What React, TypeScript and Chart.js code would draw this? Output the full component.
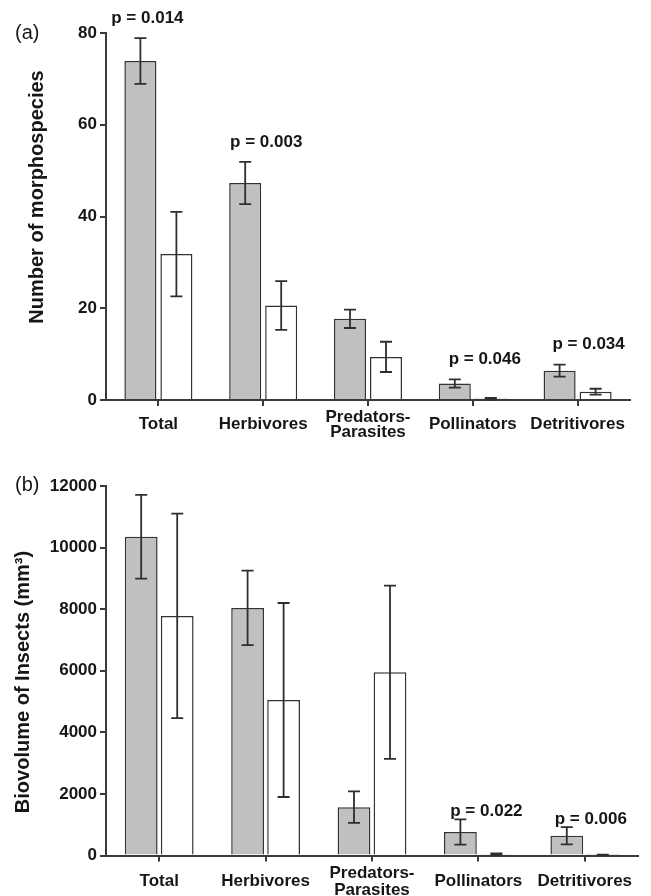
import React, { useEffect, useRef } from "react";
import { Chart, registerables } from "chart.js";

Chart.register(...registerables);

// ---------- data ----------
const categories: (string | string[])[] = [
  "Total",
  "Herbivores",
  ["Predators-", "Parasites"],
  "Pollinators",
  "Detritivores",
];

// (a) Number of morphospecies
const morphoTicks = [0, 20, 40, 60, 80];
const morphoGray = [73.9, 47.3, 17.7, 3.6, 6.4];
const morphoGrayErr = [5.0, 4.6, 2.0, 0.9, 1.3];
const morphoWhite = [31.8, 20.6, 9.4, 0.3, 1.8];
const morphoWhiteErr = [9.2, 5.3, 3.3, 0.15, 0.65];
const morphoP = ["p = 0.014", "p = 0.003", "", "p = 0.046", "p = 0.034"];

// (b) Biovolume of insects
const bioTicks = [0, 2000, 4000, 6000, 8000, 10000, 12000];
const bioGray = [10350, 8040, 1570, 760, 640];
const bioGrayErr = [1360, 1210, 510, 410, 280];
const bioWhite = [7780, 5050, 5950, 40, 20];
const bioWhiteErr = [3320, 3150, 2815, 25, 10];
const bioP = ["", "", "", "p = 0.022", "p = 0.006"];

// ---------- styling ----------
const FONT = "'Liberation Sans', Arial, Helvetica, sans-serif";
const AXIS = "#3a3a3a";
const TEXT = "#161616";
const GRAY = "#c0c0c0";

type PanelCfg = {
  tag: string;
  yTitle: string;
  ticks: number[];
  gray: number[];
  grayErr: number[];
  white: number[];
  whiteErr: number[];
  pLabels: string[];
  pDx: number[];
  pGap: number;
  height: number;
  pad: { left: number; right: number; top: number; bottom: number };
  xHeight: number;
  labelLineHeight: number;
  labelPad: number;
  catPct: number;
  barPct: number;
  titleX: number;
  titleY: number;
  tagY: number;
};

function makeOverlay(cfg: PanelCfg) {
  return {
    id: "overlay",
    afterDatasetsDraw(chart: any) {
      const ctx = chart.ctx;
      const ys = chart.scales.y;
      const errs = [cfg.grayErr, cfg.whiteErr];
      ctx.save();
      ctx.strokeStyle = "#2e2e2e";
      ctx.lineWidth = 1.8;
      const cap = 6;
      errs.forEach((errArr, di) => {
        const meta = chart.getDatasetMeta(di);
        meta.data.forEach((bar: any, j: number) => {
          const v = chart.data.datasets[di].data[j] as number;
          const e = errArr[j];
          const x = bar.x;
          const yt = ys.getPixelForValue(v + e);
          const yb = ys.getPixelForValue(Math.max(0, v - e));
          ctx.beginPath();
          ctx.moveTo(x, yt);
          ctx.lineTo(x, yb);
          ctx.moveTo(x - cap, yt);
          ctx.lineTo(x + cap, yt);
          ctx.moveTo(x - cap, yb);
          ctx.lineTo(x + cap, yb);
          ctx.stroke();
        });
      });
      ctx.restore();
    },
    afterDraw(chart: any) {
      const ctx = chart.ctx;
      const xs = chart.scales.x;
      const ys = chart.scales.y;
      ctx.save();
      ctx.fillStyle = TEXT;
      // p-value labels
      ctx.font = `bold 17px ${FONT}`;
      ctx.textAlign = "center";
      ctx.textBaseline = "middle";
      cfg.pLabels.forEach((lab, j) => {
        if (!lab) return;
        const top = Math.max(
          cfg.gray[j] + cfg.grayErr[j],
          cfg.white[j] + cfg.whiteErr[j]
        );
        const x = xs.getPixelForValue(j) + cfg.pDx[j];
        const y = ys.getPixelForValue(top) - cfg.pGap;
        ctx.fillText(lab, x, y);
      });
      // y-axis title
      ctx.save();
      ctx.translate(cfg.titleX, cfg.titleY);
      ctx.rotate(-Math.PI / 2);
      ctx.font = `bold 20px ${FONT}`;
      ctx.textAlign = "center";
      ctx.textBaseline = "middle";
      ctx.fillText(cfg.yTitle, 0, 0);
      ctx.restore();
      // panel tag
      ctx.font = `20px ${FONT}`;
      ctx.textAlign = "left";
      ctx.textBaseline = "middle";
      ctx.fillText(cfg.tag, 15, cfg.tagY);
      ctx.restore();
    },
  };
}

function Panel({ cfg, top }: { cfg: PanelCfg; top: number }) {
  const ref = useRef<HTMLCanvasElement | null>(null);
  useEffect(() => {
    if (!ref.current) return;
    const chart = new Chart(ref.current, {
      type: "bar",
      data: {
        labels: categories as any,
        datasets: [
          {
            data: cfg.gray,
            backgroundColor: GRAY,
            borderColor: "#333",
            borderWidth: 1.5,
            categoryPercentage: cfg.catPct,
            barPercentage: cfg.barPct,
          },
          {
            data: cfg.white,
            backgroundColor: "#ffffff",
            borderColor: "#333",
            borderWidth: 1.5,
            categoryPercentage: cfg.catPct,
            barPercentage: cfg.barPct,
          },
        ],
      },
      options: {
        responsive: false,
        animation: false,
        devicePixelRatio: 1,
        layout: { padding: cfg.pad },
        plugins: {
          legend: { display: false },
          tooltip: { enabled: false },
        },
        scales: {
          x: {
            offset: true,
            grid: {
              offset: false,
              drawOnChartArea: false,
              color: AXIS,
              lineWidth: 2,
              tickLength: 6,
            },
            border: { color: AXIS, width: 2 },
            ticks: {
              color: TEXT,
              autoSkip: false,
              maxRotation: 0,
              minRotation: 0,
              padding: cfg.labelPad,
              crossAlign: "center",
              font: {
                family: FONT,
                size: 17,
                weight: "bold",
                lineHeight: `${cfg.labelLineHeight}px`,
              },
            },
            afterFit: (s: any) => {
              s.height = cfg.xHeight;
            },
          } as any,
          y: {
            min: cfg.ticks[0],
            max: cfg.ticks[cfg.ticks.length - 1],
            grid: {
              drawOnChartArea: false,
              color: AXIS,
              lineWidth: 2,
              tickLength: 6,
            },
            border: { color: AXIS, width: 2 },
            ticks: {
              color: TEXT,
              padding: 3,
              font: { family: FONT, size: 17, weight: "bold" },
              callback: (v: any) => String(v),
            },
            afterBuildTicks: (s: any) => {
              s.ticks = cfg.ticks.map((v) => ({ value: v }));
            },
            afterFit: (s: any) => {
              s.width = 60;
            },
          } as any,
        },
      },
      plugins: [makeOverlay(cfg)],
    });
    return () => chart.destroy();
  }, [cfg]);
  return (
    <canvas
      ref={ref}
      width={651}
      height={cfg.height}
      style={{
        position: "absolute",
        left: 0,
        top,
        width: 651,
        height: cfg.height,
        display: "block",
      }}
    />
  );
}

const panelA: PanelCfg = {
  tag: "(a)",
  yTitle: "Number of morphospecies",
  ticks: morphoTicks,
  gray: morphoGray,
  grayErr: morphoGrayErr,
  white: morphoWhite,
  whiteErr: morphoWhiteErr,
  pLabels: morphoP,
  pDx: [-11, 3, 0, 12, 11],
  pGap: 20,
  height: 450,
  pad: { left: 46, right: 21, top: 33, bottom: 0 },
  xHeight: 50,
  labelLineHeight: 15,
  labelPad: 11,
  catPct: 0.687,
  barPct: 0.89,
  titleX: 37,
  titleY: 197,
  tagY: 33,
};

const panelB: PanelCfg = {
  tag: "(b)",
  yTitle: "Biovolume of Insects (mm\u00B3)",
  ticks: bioTicks,
  gray: bioGray,
  grayErr: bioGrayErr,
  white: bioWhite,
  whiteErr: bioWhiteErr,
  pLabels: bioP,
  pDx: [0, 0, 0, 8, 6],
  pGap: 8,
  height: 446,
  pad: { left: 46, right: 13, top: 36, bottom: 0 },
  xHeight: 40.5,
  labelLineHeight: 17,
  labelPad: 11.5,
  catPct: 0.677,
  barPct: 0.91,
  titleX: 23,
  titleY: 232,
  tagY: 35,
};

export default function App() {
  return (
    <div
      style={{
        position: "absolute",
        left: 0,
        top: 0,
        width: 651,
        height: 896,
        background: "#ffffff",
        overflow: "hidden",
      }}
    >
      <Panel cfg={panelA} top={0} />
      <Panel cfg={panelB} top={450} />
    </div>
  );
}
